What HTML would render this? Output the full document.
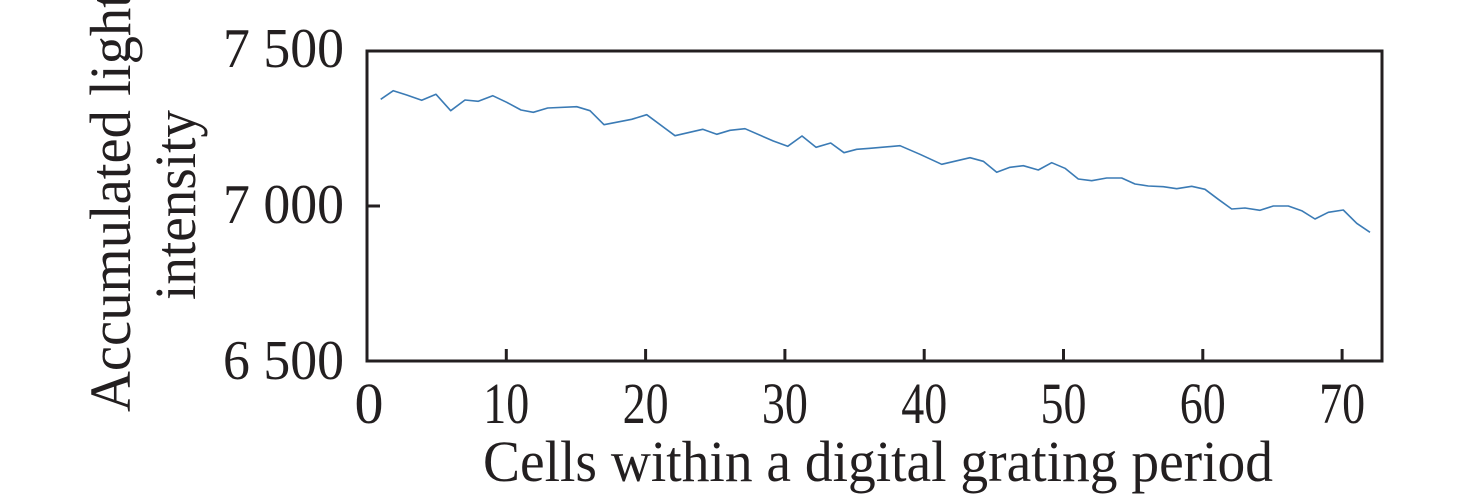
<!DOCTYPE html>
<html><head><meta charset="utf-8"><style>html,body{margin:0;padding:0;background:#fff}svg{display:block}</style></head>
<body>
<svg width="1476" height="497" viewBox="0 0 1476 497" xmlns="http://www.w3.org/2000/svg" font-family="Liberation Serif, serif" fill="#231f20">
<rect x="367" y="51" width="1015" height="310" fill="none" stroke="#231f20" stroke-width="3"/>
<g stroke="#231f20" stroke-width="3">
<line x1="367" y1="206" x2="380" y2="206"/>
<line x1="506.3" y1="361" x2="506.3" y2="349"/>
<line x1="645.6" y1="361" x2="645.6" y2="349"/>
<line x1="784.9" y1="361" x2="784.9" y2="349"/>
<line x1="924.2" y1="361" x2="924.2" y2="349"/>
<line x1="1063.5" y1="361" x2="1063.5" y2="349"/>
<line x1="1202.8" y1="361" x2="1202.8" y2="349"/>
<line x1="1342.1" y1="361" x2="1342.1" y2="349"/>
</g>
<polyline fill="none" stroke="#3b7bb5" stroke-width="1.6" stroke-linejoin="round" points="380.7,99.3 393.3,90.7 406.7,95 421.7,100.3 436,94.3 450.7,110.7 465,100 478.3,101.3 492.7,95.7 506.7,102.3 521,110 533.3,112.3 547.7,108 576.7,106.7 590,110.7 604,124.7 631.7,119.3 646.7,114.7 675,135.7 702.7,129.3 716.7,134.3 730,130.3 745,128.7 773.3,141 787.7,146.3 802,136 816,147.3 830.7,143 844,152.7 856.7,149.3 870,148.3 900,145.7 920,154.3 941.7,164.3 970,157.7 983.3,161.3 996.7,172.3 1010,167.3 1023.3,165.7 1038.3,170 1051.7,162.7 1065,168.3 1078.3,179 1091.7,180.7 1106.7,178 1121.7,178 1135,184 1148.3,186 1163.3,186.7 1176.7,188.7 1191.7,186.3 1205,189.3 1218.3,199.3 1231.7,209 1245,208 1260,210.3 1273.3,206 1288.3,206 1301.7,210.7 1315,219 1328.3,212.3 1343.3,210 1356.7,223.3 1370,232.3"/>
<g font-size="56" text-anchor="end">
<text x="344" y="67" textLength="121" lengthAdjust="spacingAndGlyphs">7 500</text>
<text x="344" y="223" textLength="121" lengthAdjust="spacingAndGlyphs">7 000</text>
<text x="344" y="379" textLength="121" lengthAdjust="spacingAndGlyphs">6 500</text>
</g>
<g font-size="58" text-anchor="middle">
<text x="369" y="423">0</text>
<text x="506.3" y="423" textLength="46" lengthAdjust="spacingAndGlyphs">10</text>
<text x="645.6" y="423" textLength="46" lengthAdjust="spacingAndGlyphs">20</text>
<text x="784.9" y="423" textLength="46" lengthAdjust="spacingAndGlyphs">30</text>
<text x="924.2" y="423" textLength="46" lengthAdjust="spacingAndGlyphs">40</text>
<text x="1063.5" y="423" textLength="46" lengthAdjust="spacingAndGlyphs">50</text>
<text x="1202.8" y="423" textLength="46" lengthAdjust="spacingAndGlyphs">60</text>
<text x="1342.1" y="423" textLength="46" lengthAdjust="spacingAndGlyphs">70</text>
</g>
<text x="483" y="481" font-size="58" textLength="790" lengthAdjust="spacingAndGlyphs">Cells within a digital grating period</text>
<g font-size="58" text-anchor="start">
<text transform="translate(130,412) rotate(-90)" textLength="420" lengthAdjust="spacingAndGlyphs">Accumulated light</text>
<text transform="translate(195,300) rotate(-90)" textLength="190" lengthAdjust="spacingAndGlyphs">intensity</text>
</g>
</svg>
</body></html>
